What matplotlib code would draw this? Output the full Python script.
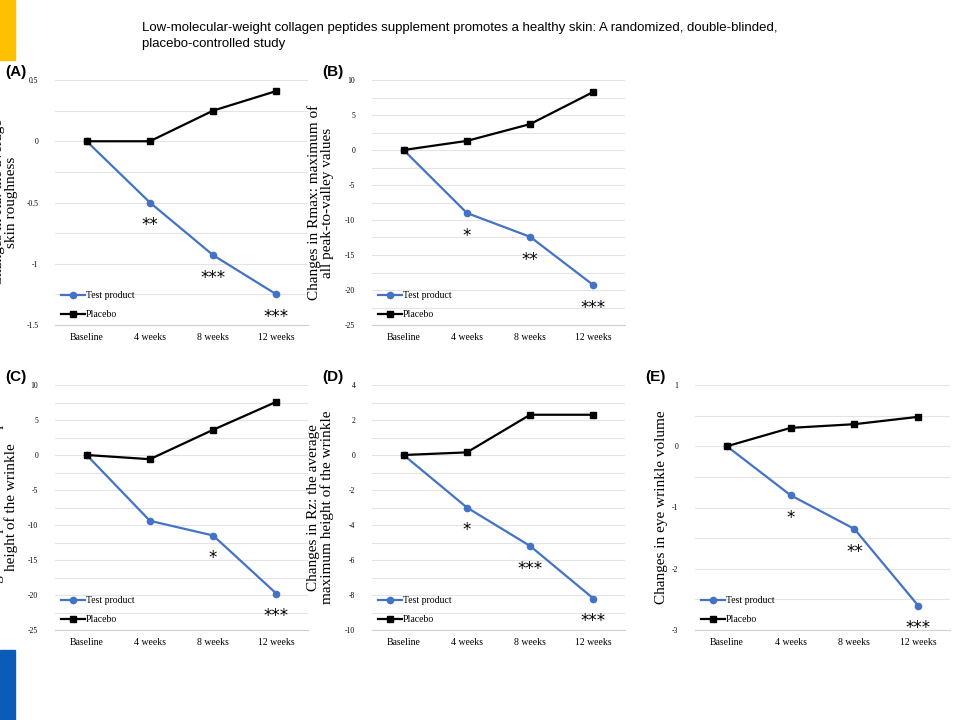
import matplotlib
matplotlib.use("Agg")
import matplotlib.pyplot as plt
from matplotlib.patches import Rectangle
import numpy as np

categories = ["Baseline", "4 weeks", "8 weeks", "12 weeks"]
a_test = [0, -0.5, -0.93, -1.25]; a_plac = [0, 0, 0.25, 0.41]
b_test = [0, -9.0, -12.4, -19.3]; b_plac = [0, 1.3, 3.7, 8.3]
c_test = [0, -9.4, -11.5, -19.8]; c_plac = [0, -0.6, 3.6, 7.6]
d_test = [0, -3.0, -5.2, -8.2]; d_plac = [0, 0.15, 2.3, 2.3]
e_test = [0, -0.8, -1.35, -2.6]; e_plac = [0, 0.3, 0.36, 0.48]
a_stars = ["", "**", "***", "***"]
b_stars = ["", "*", "**", "***"]
c_stars = ["", "", "*", "***"]
d_stars = ["", "*", "***", "***"]
e_stars = ["", "*", "**", "***"]

W, H = 960, 720
fig = plt.figure(figsize=(9.6, 7.2), dpi=100)
fig.patches.append(Rectangle((0, 1 - 60 / H), 15 / W, 60 / H, transform=fig.transFigure, color="#FFC000"))
fig.patches.append(Rectangle((0, 0), 15 / W, 70 / H, transform=fig.transFigure, color="#0A5CB8"))
fig.text(142 / W, 1 - 36 / H,
         "Low-molecular-weight collagen peptides supplement promotes a healthy skin: A randomized, double-blinded,\nplacebo-controlled study",
         fontsize=9.5, family="Liberation Sans", va="center", ha="left", linespacing=1.5)

panels = [
    ("(A)", (55, 80, 308, 325), a_test, a_plac, a_stars, (-1.5, 0.5), 0.5, "Changes in Ra: the average\nskin roughness", -37),
    ("(B)", (372, 80, 625, 325), b_test, b_plac, b_stars, (-25, 10), 5, "Changes in Rmax: maximum of\nall peak-to-valley values", -38),
    ("(C)", (55, 385, 308, 630), c_test, c_plac, c_stars, (-25, 10), 5, "Changes in Rp: the maximum peak\nheight of the wrinkle", -37),
    ("(D)", (372, 385, 625, 630), d_test, d_plac, d_stars, (-10, 4), 2, "Changes in Rz: the average\nmaximum height of the wrinkle", -38),
    ("(E)", (695, 385, 950, 630), e_test, e_plac, e_stars, (-3, 1), 1, "Changes in eye wrinkle volume", -27),
]
serif = "Liberation Serif"
for lab, (x0, y0, x1, y1), t, p, st, ylim, step, ylab, loff in panels:
    ax = fig.add_axes([x0 / W, 1 - y1 / H, (x1 - x0) / W, (y1 - y0) / H])
    x = range(len(categories))
    ax.plot(x, t, color="#4472C4", marker="o", ms=4.5, lw=1.6, label="Test product")
    ax.plot(x, p, color="black", marker="s", ms=5, lw=1.6, label="Placebo")
    ax.set_xlim(-0.5, 3.5); ax.set_ylim(*ylim)
    ax.set_yticks(np.arange(ylim[0], ylim[1] + step / 2, step))
    ax.set_yticks(np.arange(ylim[0], ylim[1] + step / 4, step / 2), minor=True)
    ax.yaxis.set_major_formatter(matplotlib.ticker.FuncFormatter(lambda v, _: f"{v:g}"))
    ax.set_xticks(list(x)); ax.set_xticklabels(categories, family=serif, fontsize=7)
    ax.tick_params(axis="y", labelsize=5.5, length=0, pad=12)
    ax.tick_params(axis="y", which="minor", length=0)
    ax.tick_params(axis="x", length=0, pad=6)
    for tl in ax.get_yticklabels():
        tl.set_family(serif)
    ax.grid(axis="y", which="both", color="#E4E4E4", lw=0.8)
    ax.set_axisbelow(True)
    for s in ["top", "right", "left"]:
        ax.spines[s].set_visible(False)
    ax.spines["bottom"].set_color("#D0D0D0")
    ax.set_ylabel(ylab, family=serif, fontsize=11, linespacing=1.0)
    ax.yaxis.set_label_coords(loff / (x1 - x0), 0.5)
    for i, s in enumerate(st):
        if s:
            ax.annotate(s, (i, t[i]), xytext=(0, -20), textcoords="offset points",
                        ha="center", fontsize=12, family="DejaVu Sans")
    ax.legend(loc="lower left", frameon=False, prop={"family": serif, "size": 7},
              handlelength=2.5, borderaxespad=0.2, labelspacing=1.0, handletextpad=0.1)
    fig.text((x0 - 50) / W, 1 - (y0 - 8) / H, lab, fontsize=11, weight="bold",
             family="Liberation Sans", va="center")

fig.savefig("out.png", dpi=100)
